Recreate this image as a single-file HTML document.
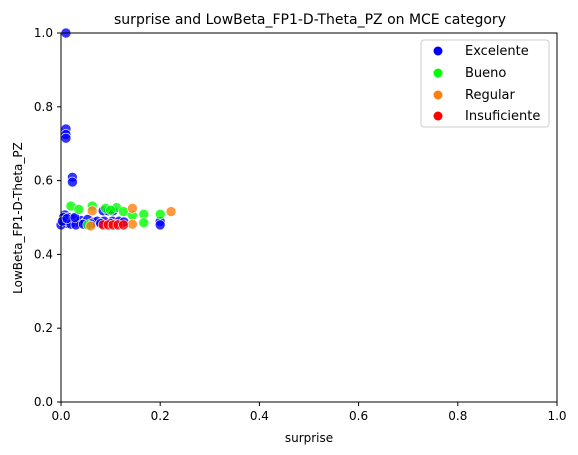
<!DOCTYPE html>
<html><head><meta charset="utf-8"><style>
body{margin:0;background:#fff}
svg{font-family:"DejaVu Sans","Liberation Sans",sans-serif;display:block}
</style></head><body>
<svg id="chart" width="578" height="455">
<rect width="578" height="455" fill="#fff"/>
<text x="310" y="24" font-size="14" text-anchor="middle">surprise and LowBeta_FP1-D-Theta_PZ on MCE category</text>
<g id="marks"></g>
<rect x="61" y="33" width="496" height="369" fill="none" stroke="#000" stroke-width="1"/>
<g id="axes" font-size="12"></g>
<text x="309" y="442" font-size="12" text-anchor="middle">surprise</text>
<text transform="translate(22,218) rotate(-90)" font-size="12" text-anchor="middle">LowBeta_FP1-D-Theta_PZ</text>
<g>
<rect x="421" y="40" width="128" height="87" rx="3" fill="#fff" fill-opacity="0.8" stroke="#ccc"/>
<g><circle cx="438" cy="51" r="4.5" fill="#0000ff"/><text x="465" y="55" font-size="13">Excelente</text></g>
<g><circle cx="438" cy="73" r="4.5" fill="#00ff00"/><text x="465" y="77" font-size="13">Bueno</text></g>
<g><circle cx="438" cy="95" r="4.5" fill="#ff7f0e"/><text x="465" y="99" font-size="13">Regular</text></g>
<g><circle cx="438" cy="116" r="4.5" fill="#ff0000"/><text x="465" y="120" font-size="13">Insuficiente</text></g>
</g>
</svg>
<script>
const xTicks=[0,0.2,0.4,0.6,0.8,1.0];
const yTicks=[0,0.2,0.4,0.6,0.8,1.0];
const excelenteX=[0.01,0.01,0.01,0.01,0.023,0.023,0.008,0.015,0.012,0.018,0.025,0.035,0.04,0.047,0.054,0.066,0.073,0.087,0.104,0.117,0.127,0.085,0.095,0.105,0.2,0.2,0.0,0.005,0.003,0.02,0.03,0.045,0.06,0.08,0.1,0.11,0.012,0.028];
const excelenteY=[1.0,0.74,0.725,0.715,0.609,0.596,0.507,0.5,0.484,0.49,0.496,0.487,0.492,0.485,0.495,0.487,0.49,0.49,0.49,0.49,0.488,0.518,0.518,0.518,0.489,0.48,0.48,0.5,0.49,0.482,0.48,0.482,0.483,0.484,0.484,0.482,0.497,0.5];
const buenoX=[0.02,0.036,0.063,0.112,0.126,0.144,0.167,0.2,0.167,0.054,0.09,0.1];
const buenoY=[0.531,0.522,0.531,0.527,0.516,0.506,0.509,0.509,0.486,0.48,0.525,0.52];
const regularX=[0.144,0.222,0.063,0.144,0.06];
const regularY=[0.525,0.516,0.518,0.482,0.477];
const insufX=[0.085,0.095,0.105,0.115,0.126];
const insufY=[0.48,0.48,0.48,0.48,0.48];
const sx=v=>61+v*496, sy=v=>402-v*369;
const NS="http://www.w3.org/2000/svg";
const marks=document.getElementById('marks'), axes=document.getElementById('axes');
function series(xs,ys,color,name){
  for(let i=0;i<xs.length;i++){
    const c=document.createElementNS(NS,'circle');
    c.setAttribute('cx',sx(xs[i]));c.setAttribute('cy',sy(ys[i]));c.setAttribute('r',5);
    c.setAttribute('fill',color);c.setAttribute('fill-opacity',0.8);c.setAttribute('stroke','#fff');c.setAttribute('stroke-width',0.6);
    
    
    marks.appendChild(c);
  }
}
series(excelenteX,excelenteY,'#0000ff','excelente');
series(buenoX,buenoY,'#00ff00','bueno');
series(regularX,regularY,'#ff7f0e','regular');
series(insufX,insufY,'#ff0000','insuficiente');
xTicks.forEach(t=>{
  const l=document.createElementNS(NS,'line');
  l.setAttribute('x1',sx(t));l.setAttribute('x2',sx(t));l.setAttribute('y1',402);l.setAttribute('y2',406);l.setAttribute('stroke','#000');
  
  
  axes.appendChild(l);
  const tx=document.createElementNS(NS,'text');
  tx.setAttribute('x',sx(t));tx.setAttribute('y',420);tx.setAttribute('text-anchor','middle');tx.textContent=t.toFixed(1);
  
  
  axes.appendChild(tx);
});
yTicks.forEach(t=>{
  const l=document.createElementNS(NS,'line');
  l.setAttribute('x1',57);l.setAttribute('x2',61);l.setAttribute('y1',sy(t));l.setAttribute('y2',sy(t));l.setAttribute('stroke','#000');
  
  
  axes.appendChild(l);
  const tx=document.createElementNS(NS,'text');
  tx.setAttribute('x',53);tx.setAttribute('y',sy(t)+4);tx.setAttribute('text-anchor','end');tx.textContent=t.toFixed(1);
  
  
  axes.appendChild(tx);
});
</script>
</body></html>
